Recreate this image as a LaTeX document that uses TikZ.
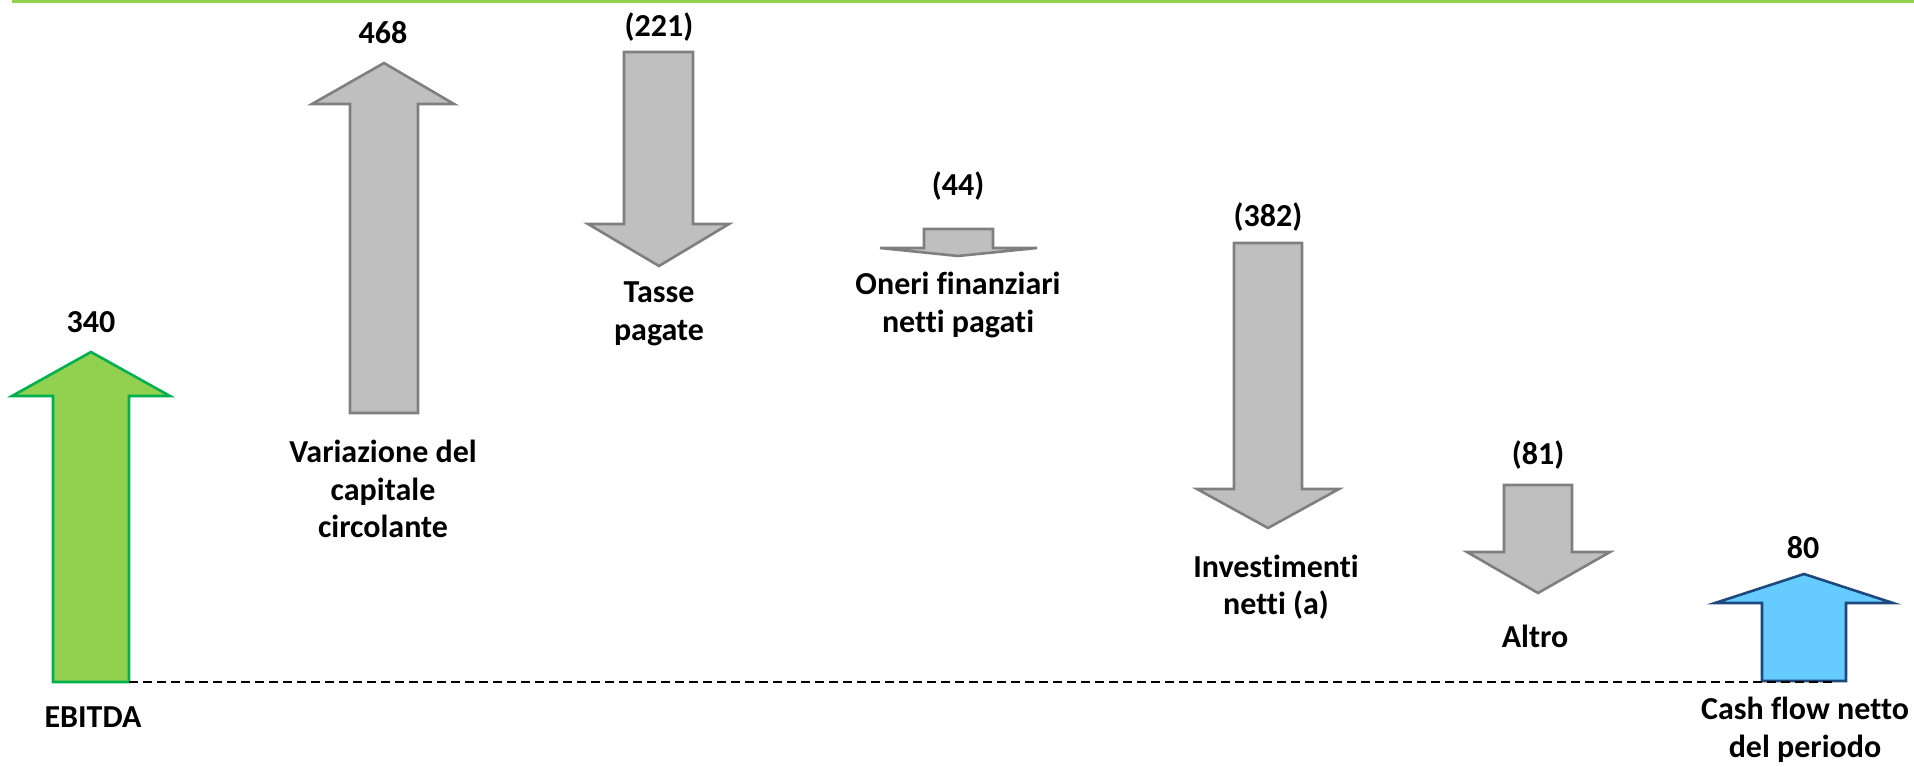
\documentclass[tikz,border=0pt]{standalone}
\usepackage{fontspec}
\setmainfont{Carlito}[Ligatures={NoCommon}]
\definecolor{verde}{HTML}{92D050}
\definecolor{verdescuro}{HTML}{00B050}
\definecolor{grigio}{HTML}{BFBFBF}
\definecolor{grigioscuro}{HTML}{7F7F7F}
\definecolor{azzurro}{HTML}{66CCFF}
\definecolor{blu}{HTML}{1F497D}
\begin{document}
\begin{tikzpicture}[x=0.5pt,y=-0.5pt] % coordinate in pixel, y verso il basso
\tikzstyle{valore} = [font=\fontsize{16}{19}\selectfont\bfseries, inner sep=0pt] % importi sopra le frecce
\tikzstyle{voce} = [font=\fontsize{16}{18.8}\selectfont\bfseries, align=center, inner sep=0pt] % nomi delle voci
\tikzstyle{freccia} = [fill=grigio, draw=grigioscuro, line width=1.3pt] % frecce grigie
\useasboundingbox (0,0) rectangle (1914,766);

\draw[verde, line width=1.5pt] (12,1.5) -- (1914,1.5); % linea verde in alto

% frecce
\draw[fill=verde, draw=verdescuro, line width=1.3pt] (53,682) -- (53,396) -- (12,396) -- (91,352) -- (170,396) -- (129,396) -- (129,682) -- cycle;
\draw[freccia] (350,413) -- (350,104) -- (312,104) -- (384,63) -- (454,104) -- (418,104) -- (418,413) -- cycle;
\draw[freccia] (624,52) -- (624,224) -- (588,224) -- (659,266) -- (729,224) -- (693,224) -- (693,52) -- cycle;
\draw[freccia] (924,229) -- (924,248) -- (880,248) -- (958,256) -- (1037,248) -- (993,248) -- (993,229) -- cycle;
\draw[freccia] (1234,243) -- (1234,489) -- (1197,489) -- (1268,528) -- (1339,489) -- (1302,489) -- (1302,243) -- cycle;
\draw[freccia] (1504,485) -- (1504,552) -- (1467,552) -- (1538,593) -- (1610,552) -- (1572,552) -- (1572,485) -- cycle;
\draw[fill=azzurro, draw=blu, line width=1.3pt] (1762,681) -- (1762,603) -- (1715,603) -- (1804,574) -- (1893,603) -- (1846,603) -- (1846,681) -- cycle;

% linea di base tratteggiata
\coordinate (baseEbitda) at (129,681.5);
\coordinate (baseCash) at (1837,681.5);
\draw[black, line width=1pt, dash pattern=on 4.5pt off 2.5pt] (baseEbitda) -- (baseCash);

% importi
\node[valore] (vEbitda) at (91,322) {340};
\node[valore] (vCapitale) at (383,33) {468};
\node[valore] (vTasse) at (659,27) {(221)};
\node[valore] (vOneri) at (958,186) {(44)};
\node[valore] (vInvest) at (1268,217) {(382)};
\node[valore] (vAltro) at (1538,455) {(81)};
\node[valore] (vCash) at (1803,548) {80};

% voci
\node[voce] (nEbitda) at (93,717) {EBITDA};
\node[voce] (nCapitale) at (383,489) {Variazione del\\capitale\\circolante};
\node[voce] (nTasse) at (659,314) {Tasse\\pagate};
\node[voce] (nOneri) at (958,305) {Oneri finanziari\\netti pagati};
\node[voce] (nInvest) at (1276,587) {Investimenti\\netti (a)};
\node[voce] (nAltro) at (1535,636) {Altro};
\node[voce] (nCash) at (1805,730) {Cash flow netto\\del periodo};
\end{tikzpicture}
\end{document}
